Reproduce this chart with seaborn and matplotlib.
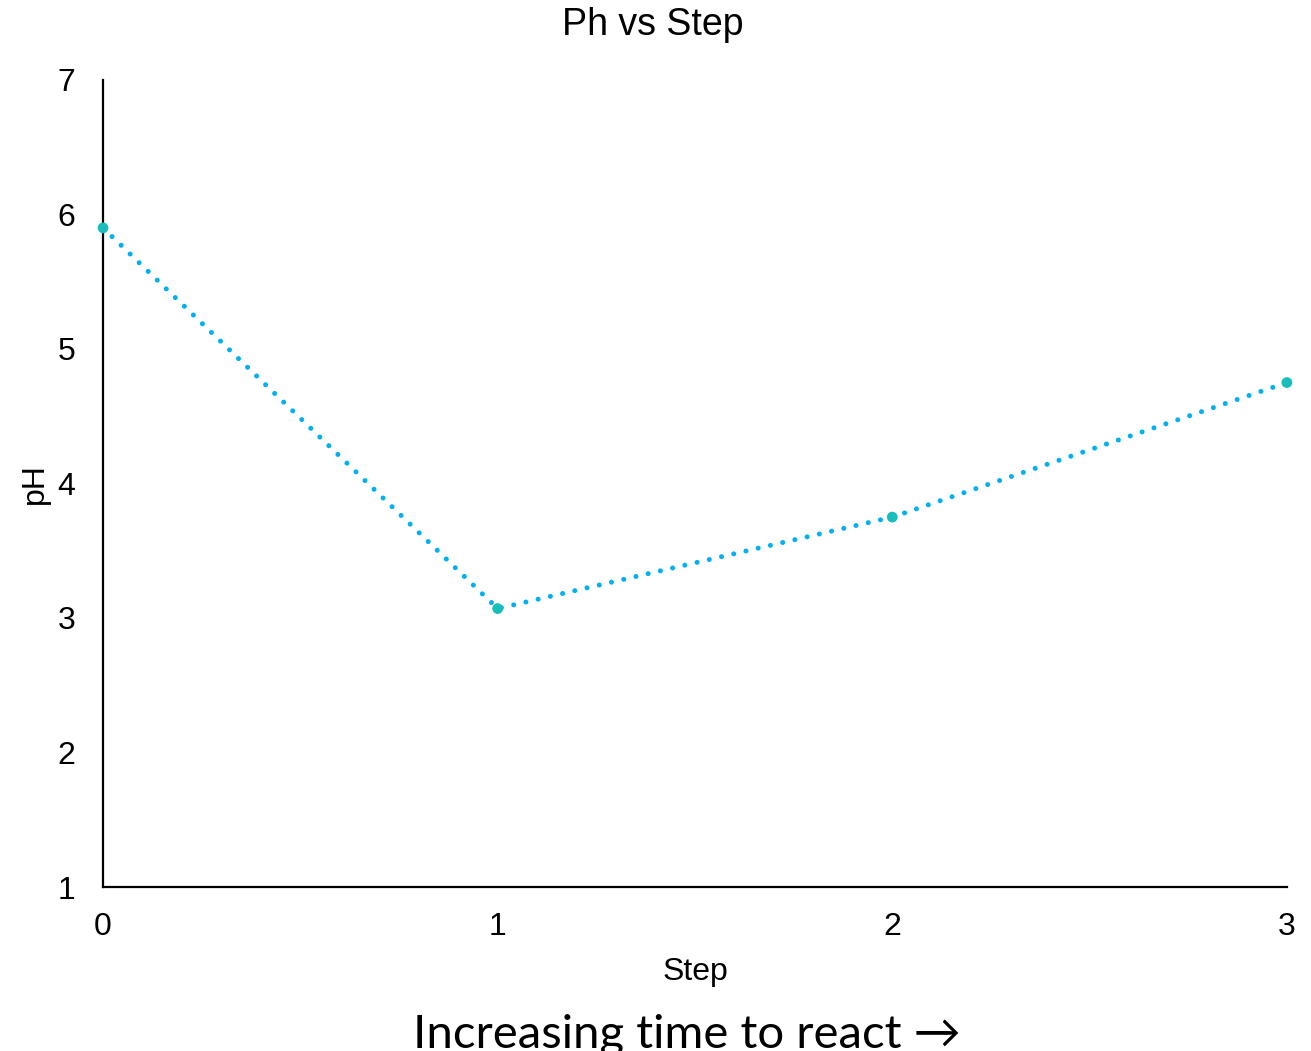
import matplotlib
matplotlib.use("Agg")
import matplotlib.pyplot as plt
import seaborn as sns
import pandas as pd

steps = [0, 1, 2, 3]
ph_values = [5.9, 3.07, 3.75, 4.75]

df = pd.DataFrame({"Step": steps, "pH": ph_values})

sns.set_style("white")
plt.rcParams["font.family"] = ["Liberation Sans", "DejaVu Sans"]
plt.rcParams["text.color"] = "black"
plt.rcParams["axes.labelcolor"] = "black"
plt.rcParams["xtick.color"] = "black"
plt.rcParams["ytick.color"] = "black"

fig = plt.figure(figsize=(13.11, 10.51), dpi=100)
ax = fig.add_axes([0.0786, 0.156, 0.903, 0.768])

sns.lineplot(data=df, x="Step", y="pH", ax=ax, color="#00B0F0",
             linestyle=(0, (0.01, 2.5)), linewidth=3.6,
             dash_capstyle="round")
sns.scatterplot(data=df, x="Step", y="pH", ax=ax, color="#17BEBB",
                s=60, edgecolor="none", zorder=3, clip_on=False)

ax.set_xlim(0, 3)
ax.set_ylim(1, 7)
ax.set_xticks(steps)
ax.set_yticks(range(1, 8))
ax.tick_params(axis="x", labelsize=23, length=0, pad=18)
ax.tick_params(axis="y", labelsize=23, length=0, pad=20)
ax.set_xlabel("Step", fontsize=23, labelpad=11)
ax.set_ylabel("pH", fontsize=23, labelpad=5)

fig.text(0.498, 0.976, "Ph vs Step", ha="center", va="center", fontsize=27)

sns.despine(ax=ax)
for side in ["left", "bottom"]:
    ax.spines[side].set_color("black")
    ax.spines[side].set_linewidth(1.6)

fig.text(0.524, 0.003, "Increasing time to react \u2192", ha="center", va="baseline",
         fontsize=34, family=["Lato", "DejaVu Sans"], color="black")

fig.savefig("out.png", dpi=100)
